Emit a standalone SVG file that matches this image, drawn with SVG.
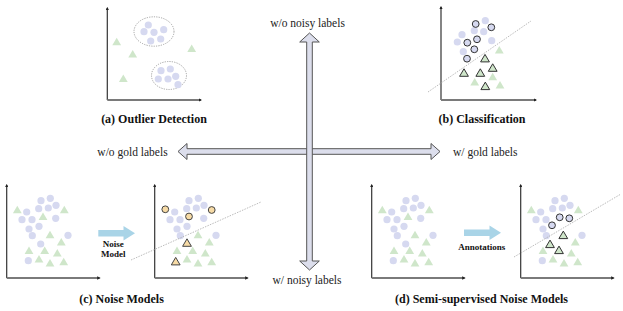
<svg xmlns="http://www.w3.org/2000/svg" width="623" height="311" viewBox="0 0 623 311">
<style>
.vax{stroke:#333;stroke-width:1.2;fill:none}
.hax{stroke:#7a7a7a;stroke-width:1.8;fill:none}
.ell{fill:none;stroke:#999;stroke-width:0.9;stroke-dasharray:1.2 1.2}
.bnd{fill:none;stroke:#aaa;stroke-width:0.8;stroke-dasharray:1.5 1.2}
.cap{font-family:"Liberation Serif",serif;font-weight:bold;font-size:12px;fill:#111}
.lab{font-family:"Liberation Serif",serif;font-size:11.5px;fill:#222}
.small{font-family:"Liberation Serif",serif;font-weight:bold;font-size:9px;fill:#111}
.cross{fill:#dcdeec;stroke:#555;stroke-width:1}
.blue{fill:#a9d4e7}
</style>
<defs>
<marker id="ah" viewBox="0 0 6 6" refX="4" refY="3" markerWidth="3.5" markerHeight="3.5" orient="auto" markerUnits="userSpaceOnUse"><path d="M0,0 L6,3 L0,6Z" fill="#222"/></marker>
<circle id="c" r="3.6" fill="#d6d9f0"/>
<path id="t" d="M0,-3.9 L4.4,3.6 L-4.4,3.6Z" fill="#cfe6ca"/>
<circle id="co" r="3.4" fill="#d6d9f0" stroke="#333" stroke-width="1"/>
<path id="to" d="M0,-3.9 L4.4,3.6 L-4.4,3.6Z" fill="#cfe6ca" stroke="#333" stroke-width="1"/>
<circle id="oc" r="3.4" fill="#f7dba6" stroke="#444" stroke-width="1"/>
<path id="ot" d="M0,-3.9 L4.4,3.6 L-4.4,3.6Z" fill="#f7dba6" stroke="#444" stroke-width="1"/>
<g id="axesC">
<line class="vax" x1="6.7" y1="278" x2="6.7" y2="185" marker-end="url(#ah)"/>
<line class="hax" x1="6.7" y1="278" x2="99.5" y2="278" marker-end="url(#ah)"/>
</g>
<g id="scatter">
<use href="#c" x="41" y="200.7"/><use href="#c" x="50.3" y="198.3"/><use href="#c" x="38.7" y="208.7"/>
<use href="#c" x="48.3" y="208"/><use href="#c" x="56" y="205.3"/><use href="#c" x="26.7" y="212"/>
<use href="#c" x="22" y="219.7"/><use href="#c" x="32" y="219.7"/><use href="#c" x="29" y="229"/>
<use href="#c" x="32.3" y="235.7"/><use href="#c" x="68" y="235.3"/>
<use href="#t" x="61.3" y="242"/><use href="#t" x="29" y="250.3"/><use href="#t" x="57.3" y="253"/>
<use href="#t" x="39" y="259"/><use href="#t" x="50" y="263"/><use href="#t" x="63.7" y="261.7"/>
</g>
<g id="fullScatter">
<use href="#scatter"/>
<use href="#t" x="17.3" y="209.7"/><use href="#t" x="43" y="216.3"/><use href="#t" x="64.3" y="209.7"/>
<use href="#t" x="50" y="234.7"/><use href="#t" x="44.7" y="250.3"/>
<use href="#c" x="55.7" y="218.3"/><use href="#c" x="39" y="226.3"/><use href="#c" x="40.7" y="244"/><use href="#c" x="28.3" y="260.7"/>
</g>
</defs>
<rect width="623" height="311" fill="#fff"/>

<g id="panel-a">
<line class="vax" x1="107.3" y1="100" x2="107.3" y2="8" marker-end="url(#ah)"/>
<line class="hax" x1="107.3" y1="100" x2="201" y2="100" marker-end="url(#ah)"/>
<ellipse class="ell" cx="154" cy="31.5" rx="20" ry="14.7"/>
<ellipse class="ell" cx="169" cy="75.5" rx="17.5" ry="14"/>
<use href="#c" x="148.3" y="25"/><use href="#c" x="144" y="31.7"/><use href="#c" x="154" y="32.3"/>
<use href="#c" x="163.7" y="29.7"/><use href="#c" x="150.7" y="41"/><use href="#c" x="160.7" y="39"/>
<use href="#c" x="161" y="70.7"/><use href="#c" x="170.3" y="69"/><use href="#c" x="158.3" y="79"/>
<use href="#c" x="168" y="79"/><use href="#c" x="175.7" y="76.3"/><use href="#c" x="178" y="84.7"/>
<use href="#t" x="116.7" y="41.7"/><use href="#t" x="132.7" y="54"/><use href="#t" x="191.7" y="48.3"/><use href="#t" x="123.3" y="78.3"/>
<text class="cap" x="154" y="123" text-anchor="middle">(a) Outlier Detection</text>
</g>

<g id="panel-b">
<line class="vax" x1="441" y1="100" x2="441" y2="7" marker-end="url(#ah)"/>
<line class="hax" x1="441" y1="100" x2="536" y2="100" marker-end="url(#ah)"/>
<line class="bnd" x1="428" y1="92" x2="531" y2="21"/>
<use href="#c" x="485.3" y="20.7"/><use href="#c" x="474.3" y="30.7"/><use href="#c" x="483.7" y="31.7"/>
<use href="#c" x="462" y="34.7"/><use href="#c" x="457.3" y="42"/><use href="#c" x="491.7" y="40.7"/><use href="#c" x="463.3" y="51.7"/>
<use href="#t" x="499.3" y="50"/><use href="#t" x="474.7" y="82"/><use href="#t" x="492.7" y="76.7"/><use href="#t" x="500" y="85"/>
<use href="#co" x="475.7" y="24"/><use href="#co" x="491.3" y="27.3"/><use href="#co" x="467.3" y="42.7"/>
<use href="#co" x="477" y="39.3"/><use href="#co" x="474.3" y="49.3"/><use href="#co" x="467" y="58.7"/>
<use href="#to" x="485" y="58.3"/><use href="#to" x="464" y="72.7"/><use href="#to" x="480.3" y="72.7"/>
<use href="#to" x="492.7" y="67.7"/><use href="#to" x="485.3" y="86"/>
<text class="cap" x="482" y="123" text-anchor="middle">(b) Classification</text>
</g>

<g id="panel-c">
<g id="panel-c-before">
<use href="#axesC"/>
<use href="#fullScatter"/>
</g>
<g id="panel-c-after" transform="translate(148,0)">
<use href="#axesC"/>
<use href="#scatter"/>
<use href="#t" x="50" y="234.7"/><use href="#t" x="44.7" y="250.3"/>
<use href="#c" x="55.7" y="218.3"/><use href="#c" x="39" y="226.3"/>
</g>
<line class="bnd" x1="131" y1="260" x2="261" y2="202"/>
<g transform="translate(148,0)">
<use href="#oc" x="17.3" y="209.3"/><use href="#oc" x="41" y="216.5"/><use href="#oc" x="63.7" y="210"/>
<use href="#ot" x="39" y="242.7"/><use href="#ot" x="27.7" y="261.3"/>
</g>
<text class="small" x="113.3" y="247" text-anchor="middle">Noise</text>
<text class="small" x="113.3" y="256.5" text-anchor="middle">Model</text>
<text class="cap" x="121.5" y="302.5" text-anchor="middle">(c) Noise Models</text>
</g>

<g id="panel-d">
<g id="panel-d-before" transform="translate(365,0)">
<use href="#axesC"/>
<use href="#fullScatter"/>
</g>
<g id="panel-d-after" transform="translate(514,0)">
<use href="#axesC"/>
<use href="#scatter"/>
<use href="#t" x="17.3" y="209.7"/><use href="#t" x="64.3" y="209.7"/><use href="#c" x="28.3" y="260.7"/>
</g>
<line class="bnd" x1="514" y1="257" x2="621" y2="194"/>
<g transform="translate(514,0)">
<use href="#co" x="45.7" y="217.3"/><use href="#co" x="55.3" y="218.3"/><use href="#co" x="38" y="225.3"/>
<use href="#to" x="49.3" y="235"/><use href="#to" x="36" y="244"/><use href="#to" x="45" y="250"/>
</g>
<text class="small" x="481.7" y="250" text-anchor="middle">Annotations</text>
<text class="cap" x="481.5" y="302.5" text-anchor="middle">(d) Semi-supervised Noise Models</text>
</g>

<g id="connectors">
<path class="blue" d="M98.3,230 H123.5 V226 L135,233.3 L123.5,240.6 V236.6 H98.3 Z"/>
<path class="blue" d="M464,229.4 H489.5 V225.4 L501,232.7 L489.5,240 V236 H464 Z"/>
<path class="cross" d="M178,151.5 L187,143.5 L187,148.7 L431,148.7 L431,143.5 L440,151.5 L431,159.5 L431,154.3 L187,154.3 L187,159.5 Z"/>
<path class="cross" d="M309.5,33 L319.3,42 L312.3,42 L312.3,261 L319.3,261 L309.5,270 L299.7,261 L306.7,261 L306.7,42 L299.7,42 Z"/>
</g>

<g id="axis-labels">
<text class="lab" x="307.5" y="27" text-anchor="middle">w/o noisy labels</text>
<text class="lab" x="307" y="284" text-anchor="middle">w/ noisy labels</text>
<text class="lab" x="132.5" y="155.5" text-anchor="middle">w/o gold labels</text>
<text class="lab" x="453" y="155.5">w/ gold labels</text>
</g>
</svg>
